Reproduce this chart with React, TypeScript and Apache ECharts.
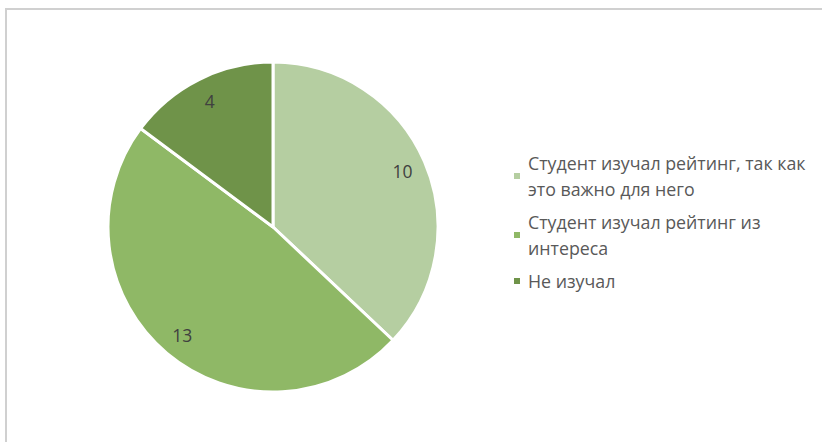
import React, { useEffect, useRef } from "react";
import * as echarts from "echarts";

const categories = [
  "Студент изучал рейтинг, так как\nэто важно для него",
  "Студент изучал рейтинг из\nинтереса",
  "Не изучал",
];
const values = [10, 13, 4];
const colors = ["#b5cea1", "#8fb866", "#6f9349"];

export default function App() {
  const ref = useRef<HTMLDivElement>(null);
  useEffect(() => {
    const chart = echarts.init(ref.current!, null, { renderer: "svg" });
    const data = categories.map((name, i) => ({
      name,
      value: values[i],
      itemStyle: { color: colors[i] },
    }));
    chart.setOption({
      animation: false,
      backgroundColor: "#ffffff",
      graphic: [
        { type: "line", shape: { x1: 5, y1: 9, x2: 822, y2: 9 }, style: { stroke: "#d0d0d0", lineWidth: 2 } },
        { type: "line", shape: { x1: 6, y1: 9, x2: 6, y2: 442 }, style: { stroke: "#d0d0d0", lineWidth: 2 } },
      ],
      legend: {
        orient: "vertical",
        left: 507,
        top: 145,
        icon: "rect",
        itemWidth: 8,
        itemHeight: 8,
        itemGap: 7,
        selectedMode: false,
        textStyle: {
          fontFamily: "Open Sans",
          fontSize: 17.8,
          color: "#595959",
          lineHeight: 26,
          padding: [0, 0, 0, 2],
        },
        data: categories,
      },
      series: [
        {
          type: "pie",
          center: [273, 227],
          radius: [0, 165],
          startAngle: 90,
          clockwise: true,
          silent: true,
          itemStyle: { borderColor: "#ffffff", borderWidth: 3 },
          label: { show: false },
          labelLine: { show: false },
          data,
        },
        {
          type: "pie",
          center: [273, 227],
          radius: [110, 166],
          startAngle: 90,
          clockwise: true,
          silent: true,
          legendHoverLink: false,
          itemStyle: { color: "rgba(0,0,0,0)", borderWidth: 0 },
          label: {
            show: true,
            position: "inside",
            formatter: "{c}",
            fontFamily: "Open Sans",
            fontSize: 17.5,
            color: "#404040",
          },
          labelLine: { show: false },
          data: categories.map((name, i) => ({ name, value: values[i], itemStyle: { color: "rgba(0,0,0,0)" } })),
        },
      ],
    });
    return () => chart.dispose();
  }, []);
  return (
    <div
      ref={ref}
      style={{ position: "fixed", left: 0, top: 0, width: 822, height: 442 }}
    />
  );
}
